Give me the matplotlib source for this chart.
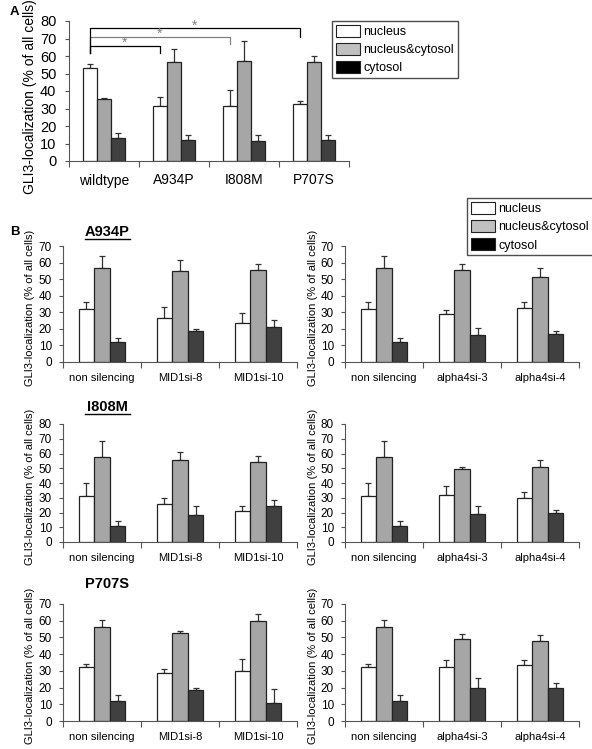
import numpy as np
import matplotlib
matplotlib.use('Agg')
import matplotlib.pyplot as plt
from matplotlib.patches import Patch
from matplotlib.lines import Line2D

plt.rcParams['font.family'] = ['Liberation Sans', 'DejaVu Sans']

# ---- data: panel A ----
a_groups = ['wildtype', 'A934P', 'I808M', 'P707S']
a_nuc = [52.9, 31.7, 31.7, 32.4]
a_nuc_err = [2.8, 4.9, 8.7, 2.1]
a_nc = [35.5, 56.7, 57.4, 56.5]
a_nc_err = [0.7, 7.3, 11.0, 3.5]
a_cyt = [12.9, 11.9, 11.4, 12.0]
a_cyt_err = [3.0, 2.7, 3.2, 3.0]

# ---- data: panel B ----
mid1_groups = ['non silencing', 'MID1si-8', 'MID1si-10']
alpha_groups = ['non silencing', 'alpha4si-3', 'alpha4si-4']
mutants = ['A934P', 'I808M', 'P707S']

a934p_mid1_nuc = [32.0, 26.5, 23.4];  a934p_mid1_nuc_err = [4.0, 6.5, 6.1]
a934p_mid1_nc = [57.0, 55.0, 55.5];   a934p_mid1_nc_err = [7.0, 6.5, 3.5]
a934p_mid1_cyt = [11.8, 18.6, 21.0];  a934p_mid1_cyt_err = [2.6, 1.2, 4.6]
a934p_alpha_nuc = [32.0, 28.9, 32.5]; a934p_alpha_nuc_err = [4.0, 2.6, 3.5]
a934p_alpha_nc = [57.0, 55.5, 51.0];  a934p_alpha_nc_err = [7.0, 3.5, 6.0]
a934p_alpha_cyt = [11.8, 16.0, 17.0]; a934p_alpha_cyt_err = [2.6, 4.8, 2.0]

i808m_mid1_nuc = [31.5, 25.8, 21.3];  i808m_mid1_nuc_err = [8.2, 3.9, 3.2]
i808m_mid1_nc = [57.4, 55.3, 54.0];   i808m_mid1_nc_err = [10.9, 5.5, 4.0]
i808m_mid1_cyt = [10.9, 18.6, 24.7];  i808m_mid1_cyt_err = [3.4, 5.7, 4.1]
i808m_alpha_nuc = [31.5, 32.0, 29.7]; i808m_alpha_nuc_err = [8.2, 5.9, 4.1]
i808m_alpha_nc = [57.4, 49.2, 50.6];  i808m_alpha_nc_err = [10.9, 1.4, 5.0]
i808m_alpha_cyt = [10.9, 18.8, 19.7]; i808m_alpha_cyt_err = [3.4, 5.5, 2.3]

p707s_mid1_nuc = [32.2, 28.8, 30.2];  p707s_mid1_nuc_err = [1.8, 2.6, 6.8]
p707s_mid1_nc = [56.0, 52.8, 59.6];   p707s_mid1_nc_err = [4.2, 1.0, 4.4]
p707s_mid1_cyt = [12.0, 18.8, 10.6];  p707s_mid1_cyt_err = [3.6, 1.2, 8.6]
p707s_alpha_nuc = [32.2, 32.2, 33.4]; p707s_alpha_nuc_err = [1.8, 4.0, 3.0]
p707s_alpha_nc = [56.0, 49.0, 47.6];  p707s_alpha_nc_err = [4.2, 2.8, 4.0]
p707s_alpha_cyt = [12.0, 19.6, 19.6]; p707s_alpha_cyt_err = [3.6, 6.4, 3.0]

series_names = ['nucleus', 'nucleus&cytosol', 'cytosol']
bar_colors = ['white', '#a6a6a6', '#404040']
legend_colors = ['white', '#c0c0c0', 'black']
ylabel = 'GLI3-localization (% of all cells)'

W, H = 592, 749
fig = plt.figure(figsize=(W / 100, H / 100), dpi=100)


def ax_at(l, t, r, b):
    return fig.add_axes([l / W, 1 - b / H, (r - l) / W, (b - t) / H])


def bars(ax, groups, vals, errs, ymax, step, tick_fs, lab_fs, lab_pad, ypad):
    x = np.arange(len(groups))
    for j in range(3):
        xs = x + 0.3 + j * 0.2
        ax.bar(xs, vals[j], width=0.2, color=bar_colors[j], edgecolor='#222222', linewidth=0.9, zorder=2)
        ax.errorbar(xs, vals[j], yerr=[np.zeros(len(groups)), errs[j]], fmt='none',
                    ecolor='#333333', elinewidth=0.9, capsize=2.5, capthick=0.9, zorder=1)
    ax.set_xlim(0, len(groups))
    ax.set_ylim(0, ymax)
    ax.set_yticks(np.arange(0, ymax + 1, step))
    ax.set_xticks(np.arange(0, len(groups) + 1))
    ax.set_xticklabels([])
    ax.set_xticks(x + 0.5, minor=True)
    ax.set_xticklabels(groups, minor=True, fontsize=lab_fs)
    ax.tick_params(axis='x', which='minor', length=0, pad=lab_pad)
    ax.tick_params(axis='x', which='major', length=4, color='#555555', width=0.8)
    ax.tick_params(axis='y', labelsize=tick_fs, length=3, color='#555555', width=0.8, pad=ypad)
    for s in ['top', 'right']:
        ax.spines[s].set_visible(False)
    for s in ['left', 'bottom']:
        ax.spines[s].set_color('#555555')
        ax.spines[s].set_linewidth(0.8)


# ---- panel A ----
axA = ax_at(69, 21, 349, 161)
bars(axA, a_groups, [a_nuc, a_nc, a_cyt], [a_nuc_err, a_nc_err, a_cyt_err], 80, 10, 10.5, 10, 9, 6)
axA.set_ylabel(ylabel, fontsize=10)
axA.yaxis.set_label_coords((37 - 69) / 280, (161 - 97) / 140)

# significance brackets from wildtype to each mutant
brackets = [(1, 66, 62, 62, 'black'), (2, 71, 62, 67, '#808080'), (3, 76, 62, 71, 'black')]
for k, top, ldrop, rdrop, col in brackets:
    x0 = 0.3
    x1 = k + 0.3
    axA.plot([x0, x0, x1, x1], [ldrop, top, top, rdrop], color=col, lw=0.9, clip_on=False)
    axA.text((x0 + x1) / 2, top - 2.5, '*', color='#808080', ha='center', va='bottom', fontsize=10)

handles = [Patch(facecolor=c, edgecolor='#222222', linewidth=0.8) for c in legend_colors]
fig.legend(handles, series_names, loc='upper left', bbox_to_anchor=(332 / W, 1 - 21 / H),
           frameon=True, fancybox=False, edgecolor='#222222', fontsize=9,
           handlelength=1.9, handleheight=1.1, handletextpad=0.3, borderpad=0.3,
           labelspacing=0.4, borderaxespad=0)

fig.text(10 / W, 1 - 12 / H, 'A', fontsize=9.5, fontweight='bold', va='center')
fig.text(10 / W, 1 - 232 / H, 'B', fontsize=9.5, fontweight='bold', va='center')

# ---- panel B ----
rows = [
    (246, 362, 70, [a934p_mid1_nuc, a934p_mid1_nc, a934p_mid1_cyt],
     [a934p_mid1_nuc_err, a934p_mid1_nc_err, a934p_mid1_cyt_err],
     [a934p_alpha_nuc, a934p_alpha_nc, a934p_alpha_cyt],
     [a934p_alpha_nuc_err, a934p_alpha_nc_err, a934p_alpha_cyt_err], 232, True),
    (424, 542, 80, [i808m_mid1_nuc, i808m_mid1_nc, i808m_mid1_cyt],
     [i808m_mid1_nuc_err, i808m_mid1_nc_err, i808m_mid1_cyt_err],
     [i808m_alpha_nuc, i808m_alpha_nc, i808m_alpha_cyt],
     [i808m_alpha_nuc_err, i808m_alpha_nc_err, i808m_alpha_cyt_err], 407, True),
    (604, 721, 70, [p707s_mid1_nuc, p707s_mid1_nc, p707s_mid1_cyt],
     [p707s_mid1_nuc_err, p707s_mid1_nc_err, p707s_mid1_cyt_err],
     [p707s_alpha_nuc, p707s_alpha_nc, p707s_alpha_cyt],
     [p707s_alpha_nuc_err, p707s_alpha_nc_err, p707s_alpha_cyt_err], 584, False),
]

for (t, b, ymax, lv, le, rv, re, ty, underline), name in zip(rows, mutants):
    axl = ax_at(63, t, 297, b)
    bars(axl, mid1_groups, lv, le, ymax, 10, 8.5, 8, 8, 5)
    axl.set_ylabel(ylabel, fontsize=8)
    axl.yaxis.set_label_coords((35 - 63) / 234, 0.47)
    axr = ax_at(345, t, 579, b)
    bars(axr, alpha_groups, rv, re, ymax, 10, 8.5, 8, 8, 5)
    axr.set_ylabel(ylabel, fontsize=8)
    axr.yaxis.set_label_coords((318 - 345) / 234, 0.47)
    fig.text(107 / W, 1 - ty / H, name, fontsize=10.5, fontweight='bold', ha='center', va='center')
    if underline:
        fig.add_artist(Line2D([85 / W, 130 / W], [1 - (ty + 7) / H] * 2, color='black', lw=1.0))

fig.legend(handles, series_names, loc='upper left', bbox_to_anchor=(467 / W, 1 - 198 / H),
           frameon=True, fancybox=False, edgecolor='#222222', fontsize=9,
           handlelength=1.9, handleheight=1.1, handletextpad=0.3, borderpad=0.3,
           labelspacing=0.4, borderaxespad=0)

fig.savefig('out.png', dpi=100)
